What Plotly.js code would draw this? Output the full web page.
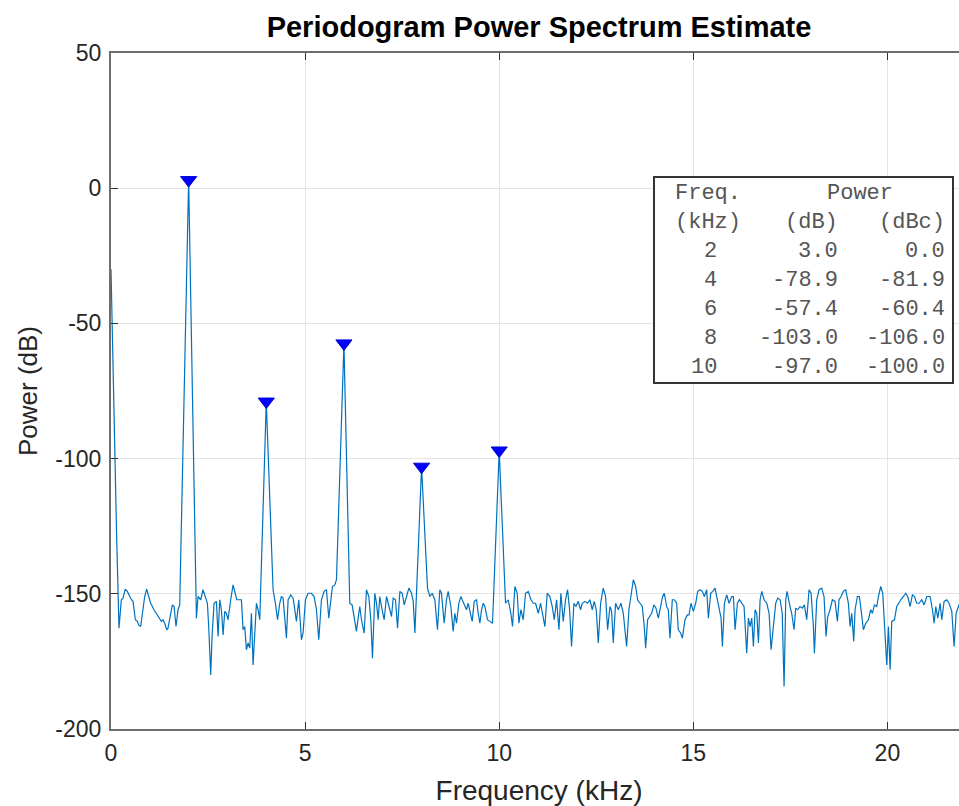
<!DOCTYPE html>
<html>
<head>
<meta charset="utf-8">
<script src="https://cdn.plot.ly/plotly-3.0.1.min.js"></script>
<style>
html, body { margin: 0; padding: 0; overflow: hidden; background: #fff; }
#chart { width: 967px; height: 806px; }
</style>
</head>
<body>
<div id="chart"></div>
<script>
// ---- Spectrum (kHz, dB) ----
const freqKHz = [
  0, 0.07, 0.147, 0.206, 0.266, 0.309, 0.369, 0.421, 0.481, 0.524, 0.567, 0.627, 0.679, 0.713, 0.765, 0.808, 0.868, 0.919, 0.971, 1.022, 1.108, 1.168, 1.229, 1.297, 1.34, 1.383, 1.435, 1.469, 1.538, 1.581, 1.624, 1.675, 1.727, 1.77,
  2.0,
  2.2, 2.242, 2.311, 2.371, 2.431, 2.483, 2.517, 2.569, 2.603, 2.655, 2.715, 2.758, 2.801, 2.844, 2.887, 2.93, 2.973, 3.015, 3.084, 3.144, 3.187, 3.238, 3.299, 3.359, 3.402, 3.445, 3.488, 3.531, 3.574, 3.617, 3.66, 3.703, 3.746, 3.789, 3.832,
  4.0,
  4.175, 4.24, 4.29, 4.347, 4.39, 4.433, 4.519, 4.562, 4.63, 4.691, 4.777, 4.837, 4.905, 4.948, 5.009, 5.077, 5.163, 5.232, 5.292, 5.352, 5.421, 5.49, 5.55, 5.61, 5.661, 5.704, 5.765, 5.808,
  6.0,
  6.151, 6.211, 6.28, 6.323, 6.366, 6.409, 6.452, 6.521, 6.581, 6.641, 6.693, 6.735, 6.796, 6.839, 6.882, 6.925, 6.968, 7.037, 7.097, 7.157, 7.226, 7.269, 7.329, 7.381, 7.441, 7.501, 7.553, 7.613, 7.673, 7.742, 7.785, 7.828,
  8.0,
  8.153, 8.213, 8.273, 8.342, 8.41, 8.47, 8.513, 8.582, 8.642, 8.686, 8.754, 8.814, 8.857, 8.9, 8.96, 9.012, 9.046, 9.098, 9.158, 9.201, 9.244, 9.304, 9.356, 9.416, 9.459, 9.502, 9.545, 9.588, 9.631, 9.699, 9.759, 9.828,
  10.0,
  10.163, 10.232, 10.3, 10.343, 10.404, 10.464, 10.507, 10.558, 10.619, 10.679, 10.748, 10.817, 10.877, 10.937, 11.006, 11.066, 11.117, 11.177, 11.237, 11.306, 11.366, 11.418, 11.478, 11.538, 11.589, 11.649, 11.709, 11.761, 11.813, 11.864, 11.924, 11.976, 12.036, 12.096, 12.139, 12.208, 12.276, 12.337, 12.397, 12.448, 12.5, 12.552, 12.612, 12.68, 12.74, 12.792, 12.852, 12.895, 12.938, 12.998, 13.067,
  13.136, 13.196, 13.282, 13.342, 13.394, 13.454, 13.514, 13.566, 13.626, 13.686, 13.737, 13.772, 13.823, 13.883, 13.926, 13.986, 14.038, 14.098, 14.158, 14.21, 14.252, 14.313, 14.356, 14.399, 14.459, 14.51, 14.571, 14.613, 14.674, 14.717, 14.786, 14.846, 14.889, 14.94, 15.001, 15.061, 15.113, 15.173, 15.233, 15.285, 15.345, 15.388, 15.448, 15.5, 15.56, 15.603, 15.663, 15.715, 15.749, 15.801, 15.861, 15.921, 15.99, 16.033, 16.076, 16.136, 16.187, 16.247, 16.307, 16.376, 16.419, 16.462, 16.505, 16.548, 16.591, 16.634, 16.677, 16.72, 16.763, 16.823, 16.892, 16.952, 17.003, 17.063, 17.123, 17.175, 17.235, 17.29, 17.338, 17.381, 17.415,
  17.491, 17.534, 17.595, 17.637, 17.689, 17.749, 17.809, 17.861, 17.921, 17.981, 18.033, 18.093, 18.119, 18.179, 18.239, 18.308, 18.368, 18.419, 18.462, 18.522, 18.582, 18.651, 18.711, 18.754, 18.806, 18.866, 18.926, 18.995, 19.038, 19.081, 19.132, 19.167, 19.227, 19.278, 19.321, 19.381, 19.441, 19.51, 19.57, 19.613, 19.665, 19.725, 19.768, 19.828, 19.88, 19.94, 19.983, 20.026, 20.069, 20.112, 20.18, 20.241, 20.284, 20.344, 20.413, 20.473, 20.524, 20.584, 20.644, 20.696, 20.756, 20.816, 20.884, 20.945, 21.014, 21.1, 21.16, 21.203, 21.246, 21.297, 21.357, 21.4, 21.46, 21.529, 21.589, 21.658, 21.718, 21.77, 21.83, 21.9, 21.97, 22.05
];
const powerDb = [
  -30, -80, -130, -162.7, -152.2, -151.6, -148.3, -149.1, -151, -152.2, -152.8, -159.6, -160.2, -161.5, -162.1, -157.2, -151, -148.3, -151, -153.5, -155.9, -157.2, -158.4, -160.2, -159.6, -160.9, -163.3, -162.7, -157.2, -154.1, -154.7, -162.1, -155.9, -154.1,
  3.0,
  -159, -151, -152.2, -148.5, -151, -153.5, -162.1, -180, -165.8, -153.5, -152.8, -165.8, -152.2, -155.9, -165.2, -156.5, -157.2, -159.6, -152.2, -146.7, -149.1, -152.2, -152.2, -152.2, -163.3, -162.1, -170.7, -168.2, -170.1, -157.2, -176.3, -162.1, -153.5, -155.9, -159.6,
  -78.9,
  -148.5, -154, -159.6, -153.5, -151, -151.6, -166.4, -152.2, -150.4, -151.6, -160.2, -152.2, -167, -164.5, -152.2, -149.8, -149.8, -151, -155.9, -167, -152.2, -149.1, -148.5, -159, -151.6, -147.3, -146.7, -144.8,
  -57.4,
  -153.5, -154.1, -159.6, -163.9, -159, -154.7, -159.6, -164.5, -148.5, -151, -159.6, -173.8, -149.8, -153.5, -159.6, -151, -154.7, -159.6, -151, -154.7, -158.4, -151.6, -152.2, -162.7, -149.1, -149.8, -154.1, -151, -147.9, -149.8, -152.8, -164.5,
  -103.0,
  -147.9, -151, -149.8, -152.2, -163.3, -148.5, -149.8, -160.9, -152.2, -149.1, -154.7, -163.9, -157.2, -160.9, -153.5, -151, -152.2, -154.1, -155.9, -153.5, -155.9, -160.2, -152.8, -152.2, -157.2, -160.9, -155.9, -153.5, -154.7, -159.6, -160.2, -160.9,
  -97.0,
  -153.5, -152.2, -157.2, -162.1, -147.3, -149.8, -160.9, -155.9, -159.6, -149.8, -149.1, -152.2, -153.5, -153.5, -157.2, -153.5, -157.2, -162.1, -149.8, -151, -154.7, -159.6, -152.2, -163.3, -149.8, -160.2, -152.2, -148.5, -155.9, -169.5, -153.5, -154.7, -152.8, -155.9, -153.5, -152.8, -153.5, -152.2, -155.9, -152.8, -155.9, -168.2, -153.5, -147.9, -151, -163.3, -154.7, -156.5, -168.2, -153.5, -155.9,
  -153.5, -157.2, -169.5, -155.9, -149.8, -144.8, -147.3, -152.2, -153.5, -154.7, -162.1, -170.1, -159.6, -158.4, -157.2, -154.1, -155.3, -159, -154.1, -151, -149.8, -154.7, -155.9, -166.4, -152.2, -152.2, -153.5, -163.3, -164.5, -166.4, -159.6, -157.8, -157.8, -153.5, -156.5, -153.5, -149.1, -148.5, -149.1, -151, -148.5, -159, -149.8, -149.1, -147.9, -151, -155.9, -159, -169.5, -153.5, -150.4, -153.5, -151, -151, -163.3, -153.5, -152.2, -153.5, -154.7, -172, -159, -162.1, -159, -169.5, -155.9, -157.2, -168.2, -152.2, -149.1, -152.2, -153.5, -157.2, -170.7, -162.1, -153.5, -151.6, -152.2, -157.2, -184.3, -152.2, -149.1,
  -154.7, -157.2, -163.3, -155.3, -155.9, -154.7, -155.3, -154.1, -159.6, -148.5, -149.8, -162.1, -172, -152.2, -148.5, -147.9, -151, -165.8, -158.4, -155.9, -152.2, -152.8, -160.2, -152.2, -151, -149.1, -148.5, -153.5, -162.1, -157.2, -167.6, -155.9, -151, -151, -155.9, -163.3, -160.9, -159.6, -155.9, -157.2, -154.1, -154.7, -151, -147.3, -149.8, -163.3, -176.3, -162.1, -178.1, -160.2, -159.6, -154.7, -153.5, -152.2, -151, -149.8, -151, -154.7, -150.4, -151, -153.5, -153.5, -152.2, -154.1, -151, -151, -155.9, -160.9, -154.7, -159, -153.5, -159.6, -152.8, -152.2, -153.5, -156.5, -169.5, -157.2, -154.7, -152, -156, -153
];

// ---- Harmonic table ----
const harmFreqKHz = [2, 4, 6, 8, 10];
const harmPowerDb = [3.0, -78.9, -57.4, -103.0, -97.0];
const harmPowerDbc = [0.0, -81.9, -60.4, -106.0, -100.0];

// ---- Axis ticks ----
const xTickVals = [0, 5, 10, 15, 20];
const xTickText = ['0', '5', '10', '15', '20'];
const yTickVals = [50, 0, -50, -100, -150, -200];
const yTickText = ['50', '0', '-50', '-100', '-150', '-200'];

const titleText = 'Periodogram Power Spectrum Estimate';
const xTitle = 'Frequency (kHz)';
const yTitle = 'Power (dB)';
const tableHeader1 = ['Freq.', 'Power'];
const tableHeader2 = ['(kHz)', '(dB)', '(dBc)'];

// ---- Layout helpers (pixel geometry of the figure) ----
const W = 967, H = 806;
const M = {l: 111, r: 0, t: 53, b: 77};
const X_MAX = 22.05, Y_MIN = -200, Y_MAX = 50;
const plotW = W - M.l - M.r, plotH = H - M.t - M.b;
const pxToX = px => (px - M.l) / plotW * X_MAX;
const pyToY = py => Y_MAX - (py - M.t) / plotH * (Y_MAX - Y_MIN);

const tableFont = {family: 'Liberation Mono, Courier New, monospace', size: 22, color: '#555555'};
const annotations = [];
function cell(text, px, py, anchor) {
  annotations.push({text: text, x: pxToX(px), y: pyToY(py), xref: 'x', yref: 'y',
    xanchor: anchor, yanchor: 'middle', showarrow: false, font: tableFont});
}
cell(tableHeader1[0], 673, 193, 'left');
cell(tableHeader1[1], 825, 193, 'left');
cell(tableHeader2[0], 673, 222, 'left');
cell(tableHeader2[1], 840, 222, 'right');
cell(tableHeader2[2], 947, 222, 'right');
harmFreqKHz.forEach((f, i) => {
  const py = 251 + 29 * i;
  cell(String(f), 719, py, 'right');
  cell(harmPowerDb[i].toFixed(1), 840, py, 'right');
  cell(harmPowerDbc[i].toFixed(1), 947, py, 'right');
});

const axisCommon = {
  showgrid: true, gridcolor: '#e4e4e4', gridwidth: 1,
  zeroline: false, showline: true, linecolor: '#6e6e6e', linewidth: 2,
  mirror: 'ticks', ticks: 'inside', ticklen: 7, tickwidth: 1, tickcolor: '#333333',
  tickfont: {family: 'Liberation Sans, Arial, sans-serif', size: 23, color: '#262626'},
  tickmode: 'array', fixedrange: true
};

const traces = [
  {
    x: freqKHz, y: powerDb, type: 'scatter', mode: 'lines',
    line: {color: '#0072BD', width: 1.2}, hoverinfo: 'skip', showlegend: false
  },
  {
    x: harmFreqKHz, y: harmPowerDb, type: 'scatter', mode: 'markers',
    marker: {symbol: 'triangle-down', size: 14, color: '#0000FF', line: {color: '#0000CC', width: 1}},
    hoverinfo: 'skip', showlegend: false
  }
];

const layout = {
  width: W, height: H, margin: M,
  paper_bgcolor: '#ffffff', plot_bgcolor: '#ffffff',
  showlegend: false,
  title: {
    text: titleText, x: 0.5, xref: 'paper', xanchor: 'center',
    y: 1 - 27 / H, yref: 'container', yanchor: 'middle',
    font: {family: 'Liberation Sans, Arial, sans-serif', size: 29, weight: 'bold', color: '#000000'}
  },
  xaxis: Object.assign({}, axisCommon, {
    range: [0, X_MAX], tickvals: xTickVals, ticktext: xTickText, ticklabelstandoff: 2,
    title: {text: xTitle, standoff: 17, font: {family: 'Liberation Sans, Arial, sans-serif', size: 28, color: '#262626'}}
  }),
  yaxis: Object.assign({}, axisCommon, {
    range: [Y_MIN, Y_MAX], tickvals: yTickVals, ticktext: yTickText, ticklabelstandoff: 3,
    title: {text: yTitle, standoff: 10, font: {family: 'Liberation Sans, Arial, sans-serif', size: 26, color: '#262626'}}
  }),
  shapes: [{
    type: 'rect', xref: 'x', yref: 'y',
    x0: pxToX(654), x1: pxToX(953), y0: pyToY(383), y1: pyToY(177),
    line: {color: '#333333', width: 2}, fillcolor: '#ffffff', layer: 'above'
  }],
  annotations: annotations
};

Plotly.newPlot('chart', traces, layout, {staticPlot: true, displayModeBar: false});
</script>
</body>
</html>
